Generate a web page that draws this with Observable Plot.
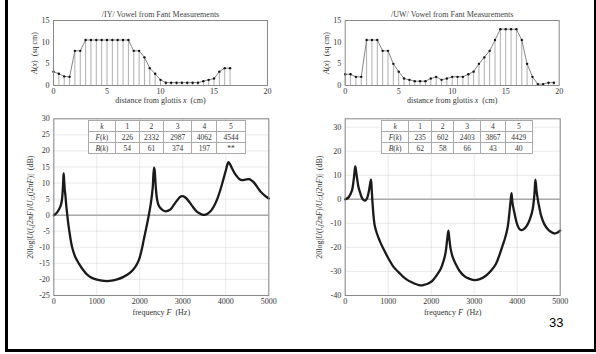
<!DOCTYPE html>
<html><head><meta charset="utf-8">
<script src="https://cdn.jsdelivr.net/npm/d3@7"></script>
<script src="https://cdn.jsdelivr.net/npm/@observablehq/plot@0.6"></script>
<style>
html,body{margin:0;padding:0;background:#fff;}
#slide{position:relative;width:596px;height:354px;overflow:hidden;background:#fff;}
.panel{position:absolute;}
.bar{position:absolute;background:#000;}
table.tk{position:absolute;border-collapse:collapse;background:#fff;font-family:"Liberation Serif",serif;font-size:7.5px;color:#333;table-layout:fixed;}
table.tk td{border:1px solid #aaa;text-align:center;padding:0;height:10px;line-height:9px;white-space:nowrap;}
#pg{position:absolute;left:549px;top:315px;font-family:"Liberation Sans",Arial,sans-serif;font-size:13px;color:#000;}
</style></head>
<body><div id="slide"></div>
<script>
// ---- Area functions (Fant) ----
const iyX = [0,0.5,1,1.5,2,2.5,3,3.5,4,4.5,5,5.5,6,6.5,7,7.5,8,8.5,9,9.5,10,10.5,11,11.5,12,12.5,13,13.5,14,14.5,15,15.5,16,16.5];
const iyA = [3.2,2.7,2.1,2.0,8.0,8.0,10.5,10.5,10.5,10.5,10.5,10.5,10.5,10.5,10.5,8.0,8.0,6.5,4.0,2.7,1.3,0.65,0.65,0.65,0.65,0.65,0.65,0.65,1.0,1.3,1.6,3.2,4.0,4.0];
const uwX = [0,0.5,1,1.5,2,2.5,3,3.5,4,4.5,5,5.5,6,6.5,7,7.5,8,8.5,9,9.5,10,10.5,11,11.5,12,12.5,13,13.5,14,14.5,15,15.5,16,16.5,17,17.5,18,18.5,19,19.5];
const uwA = [2.6,2.6,2.0,2.0,10.5,10.5,10.5,8.0,8.0,5.0,3.2,1.6,1.3,1.0,1.0,1.0,1.6,2.0,1.3,1.6,2.0,2.0,2.0,2.6,3.2,5.0,6.5,8.0,10.5,13.0,13.0,13.0,13.0,10.5,5.0,2.0,0.32,0.32,0.65,0.65];

// ---- Frequency responses ----
const iyF = [0,60,116,160,190,209,222,230,240,255,271,290,310,340,426,500,581,680,775,900,1085,1240,1350,1473,1620,1783,1900,1977,2040,2093,2150,2209,2260,2300,2330,2345,2370,2403,2440,2480,2540,2597,2660,2713,2790,2868,2930,2984,3040,3100,3217,3333,3450,3500,3566,3650,3721,3800,3876,3940,3992,4035,4062,4100,4147,4200,4264,4320,4380,4460,4535,4590,4651,4730,4806,4900,5000];
const iyDb = [0,0.6,1.7,3.0,4.8,8,11.5,13.0,11,8,6,3,0.5,-3,-10,-13,-15,-17,-18.5,-19.6,-20.3,-20.5,-20.4,-20,-19.2,-17.8,-16,-14,-11,-7.6,-4,0,4,8.5,14.8,14,9,4.8,3,2.2,1.5,1.2,1.4,1.8,3.2,4.6,5.6,5.9,5.7,5,2.9,1,0.2,0.1,0.4,1.3,2.7,5,8,11,13.5,15.7,16.5,15.8,14.5,13.2,12,11.2,10.9,11.1,11.2,10.9,10.2,8.8,7.4,6.2,5.2];
const uwF = [0,78,156,195,215,234,250,273,310,350,390,428,470,510,545,575,600,615,630,648,665,685,730,779,818,900,1012,1120,1246,1400,1558,1750,1830,1930,2025,2120,2220,2290,2336,2370,2399,2420,2453,2500,2570,2660,2765,2880,2998,3130,3271,3400,3505,3600,3660,3720,3777,3816,3845,3867,3890,3933,3970,4011,4060,4112,4180,4245,4310,4361,4400,4424,4450,4478,4516,4556,4630,4712,4790,4867,4940,5000];
const uwDb = [0,0.8,3.6,7.8,11,13.7,12,9.2,5,2.6,0.6,-0.3,-0.5,0.5,2.9,6,8.2,4.5,0,-4.5,-8,-10.8,-13.8,-16.2,-17.9,-21,-24.8,-28,-30.4,-33,-34.6,-35.8,-35.6,-35,-33.9,-31.8,-29,-25.5,-22,-17,-13,-16,-20.7,-24,-26.9,-29.8,-31.8,-33,-33.6,-33.2,-31.8,-29.5,-26.9,-22.5,-19.3,-16,-11.7,-6,-1,2.6,-1.5,-5.4,-8.5,-11,-12.5,-12.8,-12,-10.3,-7.5,-4,2,8.2,3.5,0.1,-3.5,-6.8,-10.3,-12.4,-13.6,-14.2,-13.8,-13];

// ---- Formant tables ----
const kLabels = ["1","2","3","4","5"];
const iyFk = ["226","2332","2987","4062","4544"];
const iyBk = ["54","61","374","197","**"];
const uwFk = ["235","602","2403","3867","4429"];
const uwBk = ["62","58","66","43","40"];

const titles = ["/IY/ Vowel from Fant Measurements", "/UW/ Vowel from Fant Measurements"];
const distTicks = [0,5,10,15,20];
const areaTicks = [0,5,10,15];
const freqTicks = [0,1000,2000,3000,4000,5000];
const iyDbTicks = [-25,-20,-15,-10,-5,0,5,10,15,20,25,30];
const uwDbTicks = [-40,-30,-20,-10,0,10,20,30];

const slide = document.getElementById("slide");
const style = {fontFamily:"Liberation Serif, serif", fontSize:"8px", color:"#333", background:"transparent", overflow:"visible"};
const fmt = d => String(d).replace("−","-");

function place(svg, left, top) {
  const d = document.createElement("div");
  d.className = "panel"; d.style.left = left+"px"; d.style.top = top+"px";
  d.appendChild(svg); slide.appendChild(d);
  return svg;
}
function setLabel(svg, which, html) {
  const t = svg.querySelector(`g[aria-label="${which}-axis label"] text`);
  if (t) t.innerHTML = html;
}

function areaPanel(xs, as, title, left, top, ml, labelOff) {
  const data = xs.map((x,i)=>({x, a: as[i]}));
  const p = Plot.plot({
    width: 270, height: 105, marginLeft: ml, marginRight: 270-ml-214, marginTop: 15, marginBottom: 25,
    style,
    x: {domain:[0,20]}, y: {domain:[0,15]},
    marks: [
      Plot.ruleX(data, {x:"x", y1:0, y2:"a", stroke:"#999", strokeWidth:0.8}),
      Plot.line(data, {x:"x", y:"a", stroke:"#777", strokeWidth:0.9}),
      Plot.dot(data, {x:"x", y:"a", r:1.2, fill:"#111", stroke:"none"}),
      Plot.frame({stroke:"#888"}),
      Plot.axisX({ticks:distTicks, tickSize:0, tickPadding:3, tickFormat:fmt, label:"distance from glottis x (cm)", labelAnchor:"center", labelOffset:17, labelArrow:false}),
      Plot.axisY({ticks:areaTicks, tickSize:0, tickPadding:4, tickFormat:fmt, label:"A(x) (sq cm)", labelAnchor:"center", labelOffset:labelOff, labelArrow:false}),
      Plot.text([title], {text:d=>d, frameAnchor:"top", dy:-9.5, fill:"#444", fontSize:8})
    ]
  });
  setLabel(p, "x", 'distance from glottis <tspan font-style="italic">x</tspan>  (cm)');
  setLabel(p, "y", '<tspan font-style="italic">A</tspan>(<tspan font-style="italic">x</tspan>)  (sq cm)');
  return place(p, left, top);
}

function respPanel(fs, dbs, yDomain, yTicks, left, top, ml, labelOff) {
  const data = fs.map((f,i)=>({f, db: dbs[i]}));
  const p = Plot.plot({
    width: 270, height: 215, marginLeft: ml, marginRight: 270-ml-215, marginTop: 8.3, marginBottom: 30,
    style,
    x: {domain:[0,5000]}, y: {domain:yDomain},
    marks: [
      Plot.gridX({ticks:freqTicks, stroke:"#ccc", strokeOpacity:0.7, strokeWidth:0.6}),
      Plot.gridY({ticks:yTicks, stroke:"#ccc", strokeOpacity:0.7, strokeWidth:0.6}),
      Plot.ruleY([0], {stroke:"#aaa", strokeWidth:1.5}),
      Plot.line(data, {x:"f", y:"db", stroke:"#1a1a1a", strokeWidth:2.3, curve:"catmull-rom"}),
      Plot.frame({stroke:"#888"}),
      Plot.axisX({ticks:freqTicks, tickSize:0, tickPadding:3, tickFormat:fmt, label:"frequency F (Hz)", labelAnchor:"center", labelOffset:19, labelArrow:false}),
      Plot.axisY({ticks:yTicks, tickSize:0, tickPadding:4, tickFormat:fmt, label:"dB", labelAnchor:"center", labelOffset:labelOff, labelArrow:false})
    ]
  });
  setLabel(p, "x", 'frequency <tspan font-style="italic">F</tspan>  (Hz)');
  setLabel(p, "y", '20log|<tspan font-style="italic">U</tspan>(<tspan font-style="italic">l</tspan>,<tspan font-style="italic">j</tspan>2π<tspan font-style="italic">F</tspan>)/<tspan font-style="italic">U</tspan><tspan font-size="5.5px" dy="1.5">G</tspan><tspan dy="-1.5">(</tspan><tspan font-style="italic">j</tspan>2π<tspan font-style="italic">F</tspan>)|  (dB)');
  return place(p, left, top);
}

function table(Fk, Bk, left, top, widths) {
  const t = document.createElement("table");
  t.className = "tk"; t.style.left = left+"px"; t.style.top = top+"px";
  const cg = document.createElement("colgroup");
  widths.forEach(w => { const c = document.createElement("col"); c.style.width = w+"px"; cg.appendChild(c); });
  t.appendChild(cg);
  const rows = [["<i>k</i>", ...kLabels], ["<i>F</i>(<i>k</i>)", ...Fk], ["<i>B</i>(<i>k</i>)", ...Bk]];
  rows.forEach(r => {
    const tr = document.createElement("tr");
    r.forEach(c => { const td = document.createElement("td"); td.innerHTML = c; tr.appendChild(td); });
    t.appendChild(tr);
  });
  t.style.width = widths.reduce((a,b)=>a+b,0)+"px";
  slide.appendChild(t);
}

areaPanel(iyX, iyA, titles[0], 20, 5, 33, 22);
areaPanel(uwX, uwA, titles[1], 305, 5, 39.7, 22);
respPanel(iyF, iyDb, [-25,30], iyDbTicks, 15, 110, 38.3, 26);
respPanel(uwF, uwDb, [-40,33.5], uwDbTicks, 305, 110, 39.7, 29);
table(iyFk, iyBk, 88, 120, [26.7,24.3,24,28.3,25,28.3]);
table(uwFk, uwBk, 381, 120, [27.3,22.7,22.3,26.7,25,26.7]);

// slide frame
[[5,0,3,352],[594,0,2,352],[5,349,591,3]].forEach(([l,t,w,h])=>{
  const b = document.createElement("div"); b.className="bar";
  Object.assign(b.style,{left:l+"px",top:t+"px",width:w+"px",height:h+"px"});
  slide.appendChild(b);
});
const pg = document.createElement("div"); pg.id="pg"; pg.textContent="33"; slide.appendChild(pg);
</script></body></html>
